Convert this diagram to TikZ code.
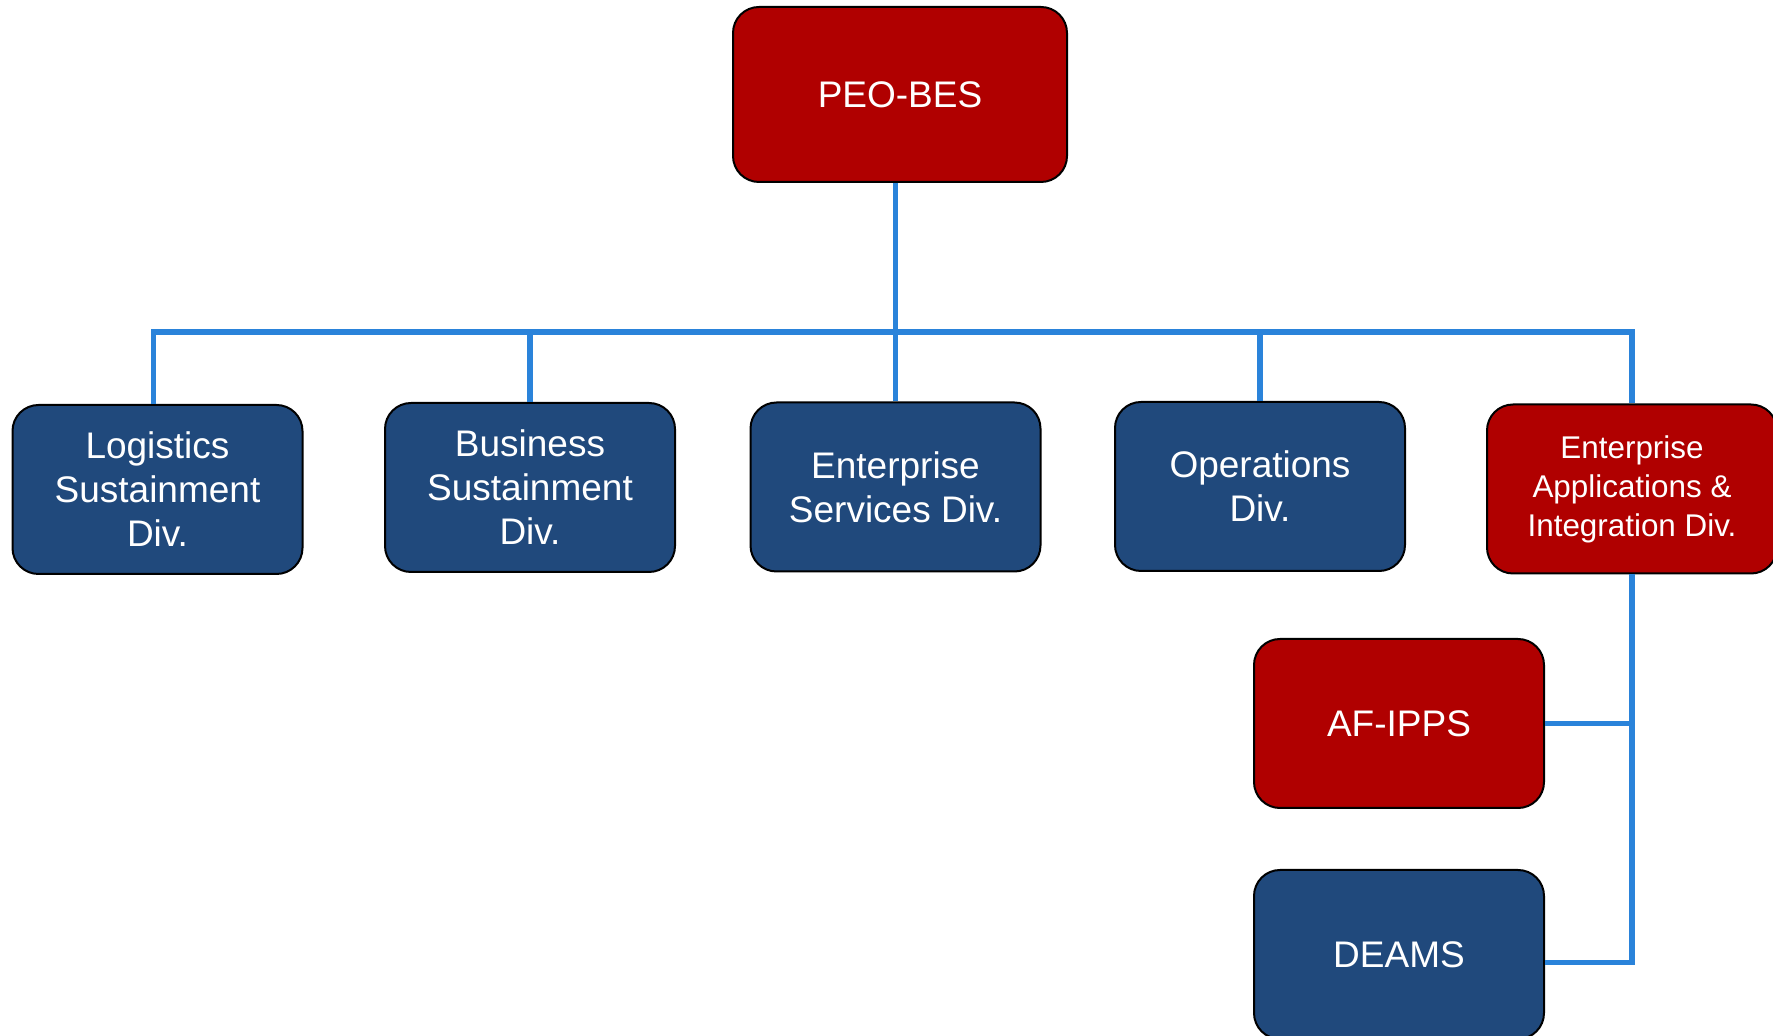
\documentclass[tikz,border=0pt]{standalone}
\usepackage{fontspec}
\setmainfont{Liberation Sans}
\definecolor{peored}{RGB}{176,0,0}
\definecolor{divblue}{RGB}{32,73,124}
\definecolor{linkblue}{RGB}{42,131,218}
\tikzset{
  unit/.style={draw=black,line width=1pt,rounded corners=13pt,text=white,
    align=center,inner sep=0pt,minimum width=145pt,minimum height=84.5pt,
    font=\fontsize{18.5}{22}\selectfont},
  redunit/.style={unit,fill=peored},
  blueunit/.style={unit,fill=divblue},
  link/.style={draw=linkblue,line width=2.6pt}
}
\begin{document}
\begin{tikzpicture}[x=0.5pt,y=-0.5pt]
      \useasboundingbox (0,0) rectangle (1773,1036);
      \node [redunit,minimum width=167pt,minimum height=87.5pt] (peo) at (900,94.5) {PEO-BES};
      \node [blueunit] (log) at (157.5,489.5) {Logistics\\Sustainment\\Div.};
      \node [blueunit] (bus) at (530,487.5) {Business\\Sustainment\\Div.};
      \node [blueunit] (ent) at (895.5,487) {Enterprise\\Services Div.};
      \node [blueunit] (ops) at (1260,486.5) {Operations\\Div.};
      \node [redunit,font=\fontsize{15.7}{19.5}\selectfont] (eai) at (1632,489) {Enterprise\\Applications \&\\Integration Div.};
      \node [redunit] (ipps) at (1399,723.5) {AF-IPPS};
      \node [blueunit] (deams) at (1399,954.5) {DEAMS};
      \coordinate (hub) at (895.5,332);

      \draw[link] (peo.south -| hub) -- (hub);
      \draw[link] ([xshift=-2pt]log.north) |- (hub) -| (eai.north);
      \foreach \n in {bus,ent,ops}
        \draw[link] (\n.north) -- (\n.north |- hub);
      \draw[link] (eai.south) |- ([yshift=-4pt]deams.east);
      \draw[link] (ipps.east) -- (ipps.east -| eai.south);
    \end{tikzpicture}
\end{document}
